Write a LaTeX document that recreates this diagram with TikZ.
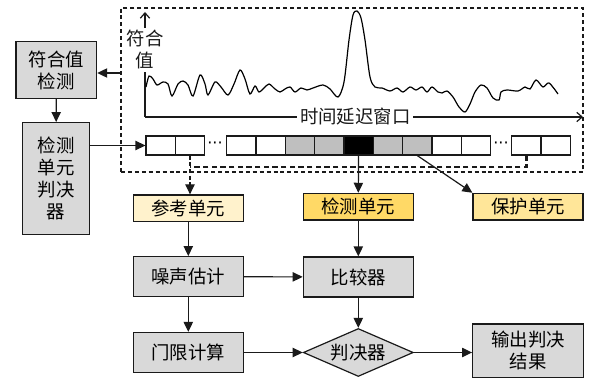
\documentclass[tikz,border=0pt]{standalone}
\usepackage{fontspec}
\setmainfont{Noto Sans CJK SC}
\newfontfamily\dotfont{DejaVu Sans}
\usepackage{xcolor}
\definecolor{boxGray}{HTML}{D9D9D9}
\definecolor{cellGray}{HTML}{BFBFBF}
\definecolor{refYellow}{HTML}{FFF2CC}
\definecolor{detYellow}{HTML}{FFD966}
\definecolor{guardYellow}{HTML}{FFE699}
\definecolor{lineDark}{HTML}{1A1A1A}
\usepackage{tikz}
\usetikzlibrary{shapes.geometric,arrows.meta,positioning,calc}
\newcommand{\dfont}{\fontsize{13.8}{16.5}\selectfont}
\tikzset{
    block/.style={
        draw=lineDark,
        fill=boxGray,
        rectangle,
        align=center,
        minimum width=82.5pt,
        minimum height=30pt,
        inner sep=2pt,
        line width=0.9pt,
        font=\dfont
    },
    unit/.style={
        block,
        minimum height=20pt
    },
    decide/.style={
        draw=lineDark,
        fill=boxGray,
        diamond,
        shape aspect=2.3,
        minimum width=82.5pt,
        minimum height=36pt,
        inner sep=0pt,
        line width=0.9pt,
        font=\dfont
    },
    cell/.style={
        draw=lineDark,
        rectangle,
        minimum width=22pt,
        minimum height=14.25pt,
        inner sep=0pt,
        line width=0.9pt
    },
    window/.style={
        draw=lineDark,
        dash pattern=on 3pt off 2.2pt,
        line width=0.9pt,
        inner sep=0pt
    },
    arrow/.style={
        -{Triangle[length=7.5pt,width=7pt]},
        line width=0.9pt,
        color=lineDark
    },
    axis/.style={
        -{Straight Barb[length=4pt,width=7pt]},
        line width=0.9pt,
        color=lineDark
    },
    tap/.style={
        arrow,
        dash pattern=on 3pt off 2pt
    },
    bus/.style={
        line width=1.8pt,
        dash pattern=on 4pt off 2.5pt,
        color=lineDark
    },
    tag/.style={
        fill=white,
        inner sep=2pt,
        align=center,
        font=\dfont
    },
    gap/.style={
        font=\dotfont\fontsize{12}{14}\selectfont,
        inner sep=0pt
    }
}

\begin{document}
\begin{tikzpicture}[x=0.75pt, y=-0.75pt]
    \useasboundingbox (0,0) rectangle (589,381);

    % Time-delay window
    \node[window, minimum width=346.5pt, minimum height=123pt] (win) at (352,90) {};
    \coordinate (orig) at (145,117);
    \draw[axis] (orig) -- (145,12) node[tag, pos=0.64] {符合\\值};
    \draw[axis] (orig) -- (583,117) node[tag, pos=0.48] {时间延迟窗口};

    % Correlation curve
    \draw[line width=0.9pt, smooth, tension=0.5] plot coordinates {
        (146,87) (149,76) (153,79) (157,85) (163,82) (168,84) (172,96)
        (178,84) (183,81) (188,85) (193,96) (200,75) (205,84) (208,95)
        (215,82) (221,87) (228,95) (234,84) (240,70) (245,79) (250,94)
        (255,86) (259,92) (264,88) (269,84) (275,89) (280,92) (285,89)
        (290,87) (295,92) (301,88) (307,90) (313,88) (323,85) (330,89)
        (338,97) (344,82) (349,40) (353,15) (357,11) (361,18) (365,40)
        (370,77) (375,87) (382,88) (390,91) (397,88) (403,92) (410,87)
        (416,90) (422,87) (427,92) (432,87) (438,92) (442,93) (447,91)
        (453,97) (459,107) (465,112) (470,104) (475,92) (481,85) (487,88)
        (493,98) (499,100) (501,92) (507,90) (518,91) (525,87) (530,89)
        (536,80) (543,87) (549,83) (558,94)};

    % Range cells
    \foreach \x/\c [count=\i] in {160.7/white,190/white,241.3/white,270.7/white,
        300/cellGray,329.3/cellGray,358.6/black,388/cellGray,417.3/cellGray,
        446.6/white,475.9/white,526.3/white,555.6/white}
        \node[cell, fill=\c] (c\i) at (\x,145.5) {};
    \node[gap] (dotsA) at (215,145.5) {···};
    \node[gap] (dotsB) at (501,145.5) {···};

    % Blocks
    \node[block, minimum width=60.5pt, minimum height=42.5pt] (cfz) at (56.3,70) {符合值\\检测};
    \node[block, minimum width=50pt, minimum height=83.8pt] (judge) at (56,178.5) {检测\\单元\\判决\\器};
    \node[unit, fill=refYellow] (ref) at (188.3,208.3) {参考单元};
    \node[unit, fill=detYellow] (det) at (358.3,206.7) {检测单元};
    \node[unit, fill=guardYellow] (guard) at (528,206.7) {保护单元};
    \node[block] (noise) at (188.3,276.7) {噪声估计};
    \node[block] (cmp) at (358.3,277) {比较器};
    \node[block] (thr) at (188.3,352.5) {门限计算};
    \node[decide] (dec) at (358.3,352.5) {判决器};
    \node[block, minimum width=83pt, minimum height=40pt] (out) at (528,350.7) {输出判决\\结果};

    % Connectors
    \coordinate (tapL) at (121,73);
    \draw[arrow] (tapL) -- (cfz.east |- tapL);
    \draw[arrow] (cfz) -- (judge);
    \draw[arrow] (judge.east |- c1.west) -- (c1.west);
    \draw[arrow] (c7.south) -- (det.north);
    \draw[arrow] (c9.south) -- (guard.north west);
    \draw[tap] (c2.south) -- (c2.south |- ref.north);
    \coordinate (join) at (190,167);
    \draw[bus] (c12.south) |- (join);
    \draw[arrow] (ref) -- (noise);
    \draw[arrow] (noise) -- (thr);
    \draw[arrow] (noise) -- (cmp);
    \draw[arrow] (det) -- (cmp);
    \draw[arrow] (cmp) -- (dec);
    \draw[arrow] (thr) -- (dec);
    \draw[arrow] (dec.east) -- (out.west |- dec.east);
\end{tikzpicture}
\end{document}
